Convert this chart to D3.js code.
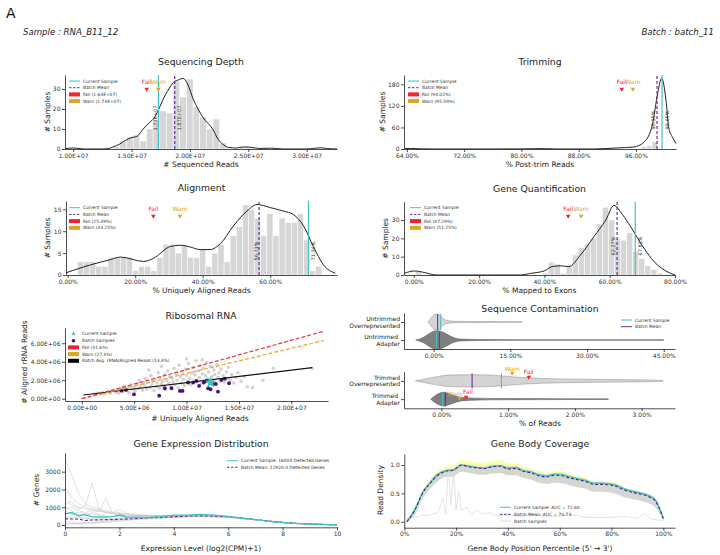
<!DOCTYPE html>
<html>
<head>
<meta charset="utf-8">
<script src="https://cdn.jsdelivr.net/npm/d3@7"></script>
<style>
  body { margin: 0; background: #fff; }
  svg { display: block; font-family: "DejaVu Sans", sans-serif; }
  .axis path, .axis line { stroke: #222; stroke-width: 0.8; }
  .axis text { font-size: 6px; fill: #333; font-family: "DejaVu Sans", sans-serif; }
</style>
</head>
<body>
<div id="chart"></div>
<script>
// ---------------- data ----------------
var sampleName = "Sample : RNA_B11_12";
var batchName = "Batch : batch_11";

// Sequencing depth (millions of reads)
var depthBinStart = 13.43, depthBinWidth = 0.57;
var depthCounts = [1, 4, 6, 7, 4, 10, 14, 19, 18, 34, 26, 35, 21, 16, 10, 15, 3, 0, 0, 1, 1];
var depthKdeX = [9.3, 10, 10.6, 11, 12.5, 13, 13.4, 14, 14.3, 14.9, 15.5, 16, 16.5, 17, 17.26, 17.8, 18.3, 18.66, 19, 19.43, 19.8, 20.28, 21.1, 22, 22.4, 22.8, 23.3, 24, 24.5, 25, 25.6, 26, 27, 28, 30, 30.6, 31.2, 31.8, 32.6];
var depthKdeY = [0.2, 0.5, 0.2, 0, 0, 0.2, 1, 2.5, 3.7, 5.5, 6.5, 10, 13, 16, 19, 26, 31, 33.7, 34.5, 35.3, 32.5, 25, 16, 9.5, 5, 2.5, 0.8, 0.5, 1, 1, 0.5, 0.3, 0.4, 0, 0, 0.3, 0.6, 0.2, 0];
var depthStats = { fail: 16.3, warn: 17.3, mean: 18.7, current: 17.3 };

// Trimming (% post-trim reads)
var trimBinStart = 96.7, trimBinWidth = 0.77;
var trimCounts = [6, 10, 20];
var trimKdeX = [63.6, 64.5, 66, 68, 76, 80, 83, 85, 90, 93.4, 95.7, 97.17, 98.34, 99.04, 99.6, 100.2, 100.6, 101.1, 101.6];
var trimKdeY = [1, 1.5, 0.5, 0, 0, 0.3, 1, 0, 0, 3, 5.6, 20, 71, 155, 197, 136, 57, 33, 15];
var trimStats = { fail: 94.02, warn: 95.59, mean: 98.95, current: 99.65 };

// Alignment (% uniquely aligned)
var alignBinStart = 2.9, alignBinWidth = 1.81;
var alignCounts = [3, 3, 3, 2, 2, 4, 4, 4, 4, 1, 2, 2, 1, 4, 7, 7, 5, 7, 4, 4, 6, 2, 5, 7, 3, 9, 11, 16, 15, 13, 9, 14, 9, 13, 12, 12, 14, 8, 1, 2];
var alignKdeX = [-0.5, 6.7, 12.6, 15.6, 22.5, 25.4, 30.4, 33.3, 36.3, 39.3, 42.2, 45.2, 49.1, 53.1, 56.1, 60, 63.9, 66.9, 69.9, 72.8, 75.8, 79.3];
var alignKdeY = [0.5, 2.3, 3.5, 4.1, 3.1, 3.8, 6.5, 6.8, 6.4, 5.8, 5.8, 7.1, 11.2, 14.6, 16.1, 15.4, 14.6, 13.8, 11.2, 6.5, 2.3, 0.4];
var alignStats = { fail: 25.39, warn: 33.25, mean: 56.71, current: 71.34 };

// Gene quantification (% mapped to exons)
var quantBinStart = 0.45, quantBinWidth = 1.85;
var quantCounts = [2, 0, 0, 0, 0, 0, 0, 0, 0, 0, 0, 0, 0, 0, 0, 0, 0, 0, 0, 0, 0, 1, 7, 6, 1, 5, 11, 15, 17, 20, 28, 37, 30, 20, 19, 23, 13, 9, 5, 3, 1];
var quantKdeX = [-3, 0.3, 3.4, 6.8, 32.7, 35.8, 39.9, 42.4, 45, 47.5, 51.1, 55.2, 58.8, 61.3, 63.9, 66.4, 70.5, 73.6, 77.2, 80];
var quantKdeY = [0.9, 2.2, 1.3, 0, 0, 0.9, 2.2, 4.6, 5, 4.6, 11, 21, 30, 38, 33, 26.4, 14.6, 7.3, 2.2, 0];
var quantStats = { fail: 47.29, warn: 51.25, mean: 62.27, current: 67.83 };

// Ribosomal RNA (millions): all samples, this batch, current sample, reference lines
var ribAllPts = [[1.2,0.5],[1.5,0.6],[1.8,0.55],[2.0,0.7],[2.2,0.5],[2.5,0.8],[2.7,0.6],[3.0,0.9],[3.2,0.7],[3.4,1.0],[3.5,0.6],[3.8,1.1],[3.9,0.8],[4.0,1.3],[4.2,0.9],[4.4,1.2],[4.5,0.7],[4.7,1.5],[4.8,1.0],[5.0,1.2],[5.1,0.8],[5.3,1.6],[5.4,1.1],[5.5,2.0],[5.6,1.3],[5.8,0.9],[5.9,1.7],[6.0,1.4],[6.1,2.2],[6.2,1.0],[6.3,1.8],[6.5,1.2],[6.6,2.5],[6.7,1.5],[6.8,1.9],[6.9,0.9],[7.0,2.1],[7.1,1.3],[7.2,1.7],[7.3,2.8],[7.4,1.1],[7.5,2.3],[7.6,1.6],[7.7,1.9],[7.8,1.4],[7.9,2.6],[8.0,1.0],[8.1,2.0],[8.2,3.0],[8.3,1.7],[8.4,2.4],[8.5,1.3],[8.6,2.2],[8.7,1.8],[8.8,3.3],[8.9,1.5],[9.0,2.7],[9.1,2.0],[9.2,1.2],[9.3,3.6],[9.4,2.4],[9.5,1.7],[9.6,2.9],[9.7,2.1],[9.8,1.4],[9.9,3.2],[10.0,2.5],[10.1,1.9],[10.2,3.8],[10.3,2.2],[10.4,1.5],[10.5,2.8],[10.6,3.4],[10.7,2.0],[10.8,2.6],[10.9,4.1],[11.0,1.8],[11.1,3.0],[11.2,2.3],[11.3,3.6],[11.4,1.6],[11.5,2.7],[11.6,3.3],[11.7,2.0],[11.8,2.5],[11.9,3.9],[12.0,2.2],[12.1,2.9],[12.2,1.7],[12.3,3.5],[12.4,2.4],[12.5,2.0],[12.6,3.1],[12.7,2.6],[12.8,1.5],[12.9,3.7],[13.0,2.3],[13.1,2.8],[13.2,1.9],[13.3,3.2],[13.5,2.5],[13.6,1.8],[13.8,2.9],[13.9,2.2],[14.0,3.4],[14.2,2.0],[14.3,2.6],[14.5,1.7],[14.7,2.3],[14.9,2.8],[15.2,1.9],[15.5,2.4],[15.8,1.3],[16.3,1.2],[17.3,2.0],[18.3,3.3],[22.0,3.3],[6.4,3.1],[7.6,3.5],[10.0,4.3],[11.5,4.2]];
var ribBatchPts = [[4.22,0.95],[3.8,0.87],[4.98,0.47],[7.39,0.33],[7.93,1.13],[8.57,1.13],[9.36,0.84],[9.62,0.84],[10.15,1.74],[10.63,1.74],[10.95,1.92],[11.2,1.38],[11.65,1.74],[11.9,1.92],[12.06,1.13],[12.29,1.02],[12.53,1.6],[12.79,1.6],[13.0,0.76],[13.33,2.03],[13.65,2.17],[14.06,1.67]];
var ribCurrent = [12.3, 1.75];
var ribFailLine = [[0, 0], [23.1, 7.3]];
var ribWarnLine = [[0, 0], [23.1, 6.3]];
var ribAvgLine = [[0.15, 0.4], [22.0, 3.37]];

// Sequence contamination violins (x in %, relative density)
var untrOverX = [-1.1, -0.5, 0, 0.5, 1, 1.5, 2, 3, 4, 6, 10, 17.3];
var untrOverD = [0, 0.45, 0.75, 0.87, 0.8, 0.55, 0.3, 0.13, 0.08, 0.06, 0.05, 0.03];
var untrAdapX = [-3.5, -2, -1, 0, 1, 2, 3, 4, 5, 7, 10, 20, 30, 45];
var untrAdapD = [0, 0.3, 0.65, 0.95, 1.0, 0.8, 0.5, 0.25, 0.12, 0.07, 0.05, 0.03, 0.02, 0.015];
var trOverX = [-0.39, -0.2, 0, 0.1, 0.3, 0.6, 0.8, 1.2, 1.5, 1.8, 2.2, 2.6, 3.1, 3.32];
var trOverD = [0, 0.35, 0.7, 0.82, 0.86, 0.86, 0.78, 0.48, 0.34, 0.28, 0.22, 0.18, 0.13, 0.05];
var trAdapX = [-0.16, -0.08, 0, 0.05, 0.1, 0.2, 0.3, 0.5, 0.8, 1.2, 1.8, 2.5];
var trAdapD = [0, 0.6, 0.95, 1.0, 0.85, 0.5, 0.25, 0.14, 0.1, 0.08, 0.06, 0.04];
var contamTop = { overMean: 0.78, overCur: 1.37, adapMean: 1.1, adapCur: 0.59 };
var contamBottom = { overMean: 0.46, overCur: 0.9, adapMean: 0.06, adapCur: 0.02,
  overWarn: 1.06, overFail: 1.31, adapWarn: 0.27, adapFail: 0.37 };

// Gene expression distribution
var exprX = [0, 0.25, 0.5, 0.75, 1, 1.25, 1.5, 1.75, 2, 2.25, 2.5, 3, 3.5, 4, 4.5, 5, 5.5, 6, 6.5, 7, 7.5, 8, 8.5, 9, 9.5, 10];
var exprCurrent = [620, 700, 520, 580, 460, 450, 440, 470, 560, 450, 440, 430, 470, 560, 560, 600, 560, 480, 380, 300, 200, 140, 90, 55, 30, 10];
var exprMean = [350, 340, 330, 250, 280, 290, 300, 310, 320, 330, 350, 400, 430, 460, 500, 510, 500, 470, 400, 310, 220, 150, 90, 55, 30, 10];
var exprSamples = [
  [3700, 2800, 1800, 1200, 1000, 900, 800, 700, 650, 600, 550, 520, 500, 500, 490, 480, 460, 420, 360, 290, 210, 140, 90, 50, 25, 8],
  [1200, 1300, 900, 1100, 2350, 900, 700, 650, 600, 560, 540, 520, 520, 520, 510, 500, 480, 440, 370, 290, 200, 130, 80, 50, 25, 8],
  [900, 1000, 800, 700, 800, 750, 1500, 650, 700, 600, 550, 530, 520, 540, 550, 540, 510, 460, 380, 300, 210, 140, 90, 50, 25, 8],
  [200, 150, 100, 150, 120, 180, 200, 250, 300, 320, 350, 380, 420, 450, 480, 500, 490, 460, 390, 300, 210, 140, 85, 50, 25, 8],
  [0, 50, 100, 120, 150, 180, 220, 250, 260, 280, 300, 330, 370, 420, 460, 480, 470, 440, 380, 300, 210, 140, 85, 50, 25, 8],
  [1500, 1100, 1000, 900, 850, 800, 750, 700, 900, 650, 600, 560, 540, 530, 520, 510, 490, 450, 380, 300, 210, 140, 85, 50, 25, 8],
  [500, 400, 450, 380, 350, 340, 350, 360, 380, 390, 400, 420, 450, 480, 500, 510, 500, 460, 390, 300, 210, 140, 85, 50, 25, 8],
  [800, 600, 700, 650, 600, 550, 500, 480, 460, 440, 430, 440, 460, 480, 500, 500, 490, 450, 380, 300, 210, 140, 85, 50, 25, 8],
  [2200, 1500, 1200, 1000, 900, 800, 700, 650, 600, 580, 560, 520, 500, 500, 490, 480, 460, 420, 360, 290, 210, 140, 85, 50, 25, 8],
  [100, 80, 60, 90, 100, 120, 150, 180, 200, 250, 300, 350, 400, 440, 470, 490, 480, 450, 380, 300, 210, 140, 85, 50, 25, 8],
  [1000, 800, 600, 500, 700, 600, 500, 450, 550, 500, 480, 460, 450, 470, 480, 480, 470, 440, 370, 290, 200, 130, 80, 50, 25, 8],
  [300, 600, 400, 350, 300, 280, 300, 320, 340, 360, 380, 400, 420, 440, 470, 490, 480, 450, 380, 300, 210, 140, 85, 50, 25, 8]
];

// Gene body coverage
var gbX = [1, 4, 7, 10, 13, 16, 19, 22, 25, 28, 31, 34, 37, 40, 43, 46, 49, 52, 55, 58, 61, 64, 67, 70, 73, 76, 79, 82, 85, 88, 91, 94, 97, 100];
var gbMean = [0.0, 0.2, 0.5, 0.68, 0.82, 0.89, 0.91, 1.0, 0.97, 0.95, 0.94, 0.97, 0.98, 0.93, 0.94, 0.89, 0.86, 0.81, 0.79, 0.82, 0.81, 0.77, 0.74, 0.71, 0.66, 0.66, 0.65, 0.62, 0.56, 0.52, 0.49, 0.45, 0.36, 0.05];
var gbCurrent = [0.0, 0.21, 0.51, 0.69, 0.84, 0.9, 0.92, 1.0, 0.98, 0.96, 0.95, 0.98, 0.99, 0.95, 0.96, 0.9, 0.88, 0.83, 0.81, 0.84, 0.83, 0.79, 0.76, 0.73, 0.68, 0.68, 0.67, 0.64, 0.58, 0.54, 0.51, 0.47, 0.38, 0.06];
var gbSpread = [0.02, 0.04, 0.06, 0.07, 0.08, 0.08, 0.08, 0.09, 0.1, 0.1, 0.1, 0.1, 0.11, 0.1, 0.09, 0.08, 0.08, 0.08, 0.07, 0.07, 0.07, 0.07, 0.07, 0.07, 0.06, 0.06, 0.06, 0.06, 0.05, 0.05, 0.05, 0.05, 0.04, 0.02];
var gbGrayLo = [0.0, 0.12, 0.4, 0.58, 0.72, 0.79, 0.8, 0.88, 0.86, 0.84, 0.83, 0.85, 0.86, 0.82, 0.82, 0.77, 0.74, 0.69, 0.67, 0.69, 0.68, 0.64, 0.61, 0.58, 0.53, 0.53, 0.52, 0.49, 0.43, 0.4, 0.37, 0.33, 0.25, 0.02];
var gbGrayHi = [0.02, 0.24, 0.54, 0.72, 0.86, 0.92, 0.94, 1.02, 1.0, 0.98, 0.97, 1.0, 1.01, 0.97, 0.98, 0.92, 0.9, 0.85, 0.83, 0.86, 0.85, 0.81, 0.78, 0.75, 0.7, 0.7, 0.69, 0.66, 0.6, 0.56, 0.53, 0.49, 0.41, 0.08];
var gbOutlierX = [1, 3, 5, 7, 9, 11, 13, 15, 16, 17, 18, 19, 20, 21, 22, 24, 26, 28, 30, 33, 36, 40, 45, 50, 55, 60, 65, 70, 75, 80, 85, 90, 93, 95, 100];
var gbOutlierY = [0.05, 0.1, 0.08, 0.12, 0.1, 0.14, 0.16, 0.4, 0.15, 0.95, 0.3, 0.9, 0.2, 0.55, 0.2, 0.25, 0.12, 0.2, 0.14, 0.16, 0.1, 0.12, 0.1, 0.13, 0.08, 0.1, 0.12, 0.08, 0.07, 0.08, 0.09, 0.06, 0.15, 0.05, 0.02];

// ---------------- drawing ----------------
var teal = "#3fc5c0", purple = "#6a2ca6", failC = "#f5222d", warnC = "#daa520", barC = "#d6d6d6";

var svg = d3.select("#chart").append("svg").attr("width", 720).attr("height", 555);

function sci(v) {
  if (v === 0) return "0.00E+00";
  var e = Math.floor(Math.log10(Math.abs(v)));
  var m = v / Math.pow(10, e);
  return m.toFixed(2) + "E+" + (e < 10 ? "0" + e : e);
}
function pct(v) { return v.toFixed(2) + "%"; }

function txt(x, y, t, size, anchor, color) {
  return svg.append("text").attr("x", x).attr("y", y).attr("font-size", size)
    .attr("text-anchor", anchor || "middle").attr("fill", color || "#222").text(t);
}
function ylab(x, y, t) {
  svg.append("text").attr("transform", `translate(${x},${y}) rotate(-90)`)
    .attr("text-anchor", "middle").attr("dy", "0.35em").attr("font-size", 7.5).attr("fill", "#222").text(t);
}
function vlabel(x, y, t) {
  svg.append("text").attr("transform", `translate(${x},${y}) rotate(-90)`)
    .attr("text-anchor", "middle").attr("dy", "0.35em").attr("font-size", 5).attr("fill", "#333").text(t);
}
function marker(x, yText, yTri, label, color, anchor, dx) {
  txt(x + (dx || 0), yText, label, 6, anchor || "middle", color);
  svg.append("path").attr("d", d3.symbol(d3.symbolTriangle, 9))
    .attr("transform", `translate(${x},${yTri}) rotate(180)`).attr("fill", color);
}
function axes(x, y, xt, xf, yt, yf) {
  svg.append("g").attr("class", "axis").attr("transform", `translate(0,${y.range()[0]})`)
    .call(d3.axisBottom(x).tickValues(xt).tickFormat(xf).tickSize(3).tickSizeOuter(0).tickPadding(1.5));
  svg.append("g").attr("class", "axis").attr("transform", `translate(${x.range()[0]},0)`)
    .call(d3.axisLeft(y).tickValues(yt).tickFormat(yf).tickSize(3).tickSizeOuter(0).tickPadding(1.5));
}
function legendRow(x, y, kind, color, label, size) {
  if (kind == "rect") {
    svg.append("rect").attr("x", x).attr("y", y - 2).attr("width", 11).attr("height", 4).attr("fill", color);
  } else if (kind == "dot") {
    svg.append("circle").attr("cx", x + 5.5).attr("cy", y).attr("r", 1.8).attr("fill", color);
  } else if (kind == "star") {
    svg.append("path").attr("d", d3.symbol(d3.symbolStar, 8)).attr("transform", `translate(${x + 5.5},${y})`).attr("fill", color);
  } else {
    svg.append("line").attr("x1", x).attr("x2", x + 11).attr("y1", y).attr("y2", y)
      .attr("stroke", color).attr("stroke-width", 1)
      .attr("stroke-dasharray", kind == "dash" ? "2.5,1.5" : null);
  }
  svg.append("text").attr("x", x + 14).attr("y", y).attr("dy", "0.35em")
    .attr("font-size", size || 4.4).attr("fill", "#333").text(label);
}

// one histogram + kde panel
function histPanel(o) {
  var x = d3.scaleLinear().domain(o.xd).range(o.xr);
  var y = d3.scaleLinear().domain(o.yd).range(o.yr);

  svg.append("g").selectAll("rect")
    .data(o.counts)
    .enter()
    .append("rect")
    .attr("x", (d, i) => x(o.start + i * o.width))
    .attr("width", x(o.start + o.width) - x(o.start))
    .attr("y", d => y(d))
    .attr("height", d => y(0) - y(d))
    .attr("fill", barC)
    .attr("stroke", "#fff")
    .attr("stroke-width", 0.5);

  var line = d3.line().x(d => x(d[0])).y(d => y(d[1])).curve(d3.curveMonotoneX);
  svg.append("path").datum(d3.zip(o.kdeX, o.kdeY)).attr("d", line)
    .attr("fill", "none").attr("stroke", "#222").attr("stroke-width", 1);

  var top = o.yr[1], bot = o.yr[0];
  svg.append("line").attr("x1", x(o.stats.current)).attr("x2", x(o.stats.current))
    .attr("y1", bot).attr("y2", top).attr("stroke", teal).attr("stroke-width", 1.2);
  svg.append("line").attr("x1", x(o.stats.mean)).attr("x2", x(o.stats.mean))
    .attr("y1", bot).attr("y2", top).attr("stroke", purple).attr("stroke-width", 1.2)
    .attr("stroke-dasharray", "3,2");

  vlabel(x(o.stats.current) + o.curOff, o.labY, o.fmt(o.stats.current));
  vlabel(x(o.stats.mean) + o.meanOff, o.labY, o.fmt(o.stats.mean));

  marker(x(o.stats.fail), o.markY, o.markY + 5, "Fail", failC);
  marker(x(o.stats.warn), o.markY, o.markY + 5, "Warn", warnC);

  legendRow(o.legX, o.legY, "line", teal, "Current Sample");
  legendRow(o.legX, o.legY + 6.7, "dash", purple, "Batch Mean");
  legendRow(o.legX, o.legY + 13.4, "rect", failC, "Fail (" + o.fmt(o.stats.fail) + ")");
  legendRow(o.legX, o.legY + 20.1, "rect", warnC, "Warn (" + o.fmt(o.stats.warn) + ")");

  axes(x, y, o.xt, o.xf, o.yt, d3.format("d"));

  var cx = (o.xr[0] + o.xr[1]) / 2;
  txt(cx, o.yr[1] - 10, o.title, 9.3);
  txt(cx, o.yr[0] + 17.7, o.xlab, 7.5);
  ylab(o.ylabX, (o.yr[0] + o.yr[1]) / 2, "# Samples");
}

// header
txt(6, 18, "A", 14, "start", "#111");
txt(23, 35, sampleName, 8.6, "start", "#222").attr("font-style", "italic");
txt(714, 35, batchName, 8.6, "end", "#222").attr("font-style", "italic");

histPanel({
  title: "Sequencing Depth", xlab: "# Sequenced Reads",
  xd: [9.3, 32.6], xr: [65, 337], yd: [0, 37], yr: [149, 75],
  start: depthBinStart, width: depthBinWidth, counts: depthCounts,
  kdeX: depthKdeX, kdeY: depthKdeY, stats: depthStats,
  fmt: v => sci(v * 1e6), xt: [10, 15, 20, 25, 30], xf: v => sci(v * 1e6), yt: [0, 10, 20, 30],
  curOff: -3.5, meanOff: 4.5, labY: 118, markY: 84, legX: 69, legY: 81, ylabX: 47
});

histPanel({
  title: "Trimming", xlab: "% Post-trim Reads",
  xd: [63.6, 101.6], xr: [404, 676], yd: [0, 206], yr: [149, 75],
  start: trimBinStart, width: trimBinWidth, counts: trimCounts,
  kdeX: trimKdeX, kdeY: trimKdeY, stats: trimStats,
  fmt: pct, xt: [64, 72, 80, 88, 96], xf: pct, yt: [0, 60, 120, 180],
  curOff: 5, meanOff: -4, labY: 120, markY: 84, legX: 408, legY: 81, ylabX: 382
});

histPanel({
  title: "Alignment", xlab: "% Uniquely Aligned Reads",
  xd: [-0.5, 79.8], xr: [66, 337], yd: [0, 16.9], yr: [275, 201],
  start: alignBinStart, width: alignBinWidth, counts: alignCounts,
  kdeX: alignKdeX, kdeY: alignKdeY, stats: alignStats,
  fmt: pct, xt: [0, 20, 40, 60], xf: pct, yt: [0, 5, 10, 15],
  curOff: 5, meanOff: -3, labY: 251, markY: 211, legX: 69, legY: 207.7, ylabX: 47
});

histPanel({
  title: "Gene Quantification", xlab: "% Mapped to Exons",
  xd: [-3, 80], xr: [404, 675], yd: [0, 40], yr: [275, 201.7],
  start: quantBinStart, width: quantBinWidth, counts: quantCounts,
  kdeX: quantKdeX, kdeY: quantKdeY, stats: quantStats,
  fmt: pct, xt: [0, 20, 40, 60, 80], xf: pct, yt: [0, 10, 20, 30],
  curOff: 5, meanOff: -4, labY: 246, markY: 211, legX: 410, legY: 207.7, ylabX: 385
});

// ---- Ribosomal RNA
(function() {
  var x = d3.scaleLinear().domain([-1.6, 23.5]).range([65, 328]);
  var y = d3.scaleLinear().domain([-0.25, 7.65]).range([401, 328]);

  svg.append("g").selectAll("circle").data(ribAllPts).enter().append("circle")
    .attr("cx", d => x(d[0])).attr("cy", d => y(d[1])).attr("r", 1.8)
    .attr("fill", "#c4c4c4").attr("opacity", 0.75);
  svg.append("g").selectAll("circle").data(ribBatchPts).enter().append("circle")
    .attr("cx", d => x(d[0])).attr("cy", d => y(d[1])).attr("r", 1.9)
    .attr("fill", "#4b0a8c");

  var line = d3.line().x(d => x(d[0])).y(d => y(d[1]));
  svg.append("path").datum(ribAvgLine).attr("d", line).attr("stroke", "#111").attr("stroke-width", 1.2).attr("fill", "none");
  svg.append("path").datum(ribWarnLine).attr("d", line).attr("stroke", "#e3a82b").attr("stroke-width", 1.2)
    .attr("stroke-dasharray", "4,2").attr("fill", "none");
  svg.append("path").datum(ribFailLine).attr("d", line).attr("stroke", "#f5303a").attr("stroke-width", 1.2)
    .attr("stroke-dasharray", "4,2").attr("fill", "none");

  svg.append("path").attr("d", d3.symbol(d3.symbolStar, 45))
    .attr("transform", `translate(${x(ribCurrent[0])},${y(ribCurrent[1])})`).attr("fill", teal);

  legendRow(68, 333.7, "star", teal, "Current Sample");
  legendRow(68, 340.7, "dot", "#4b0a8c", "Batch Samples");
  legendRow(68, 347.4, "rect", failC, "Fail (31.6%)");
  legendRow(68, 354.1, "rect", warnC, "Warn (27.3%)");
  legendRow(68, 360.8, "rect", "#000", "Batch Avg. rRNA/Aligned Reads (13.3%)");

  axes(x, y, [0, 5, 10, 15, 20], v => sci(v * 1e6), [0, 2, 4, 6], v => sci(v * 1e6));
  txt(201, 319.3, "Ribosomal RNA", 9.3);
  txt(200, 421, "# Uniquely Aligned Reads", 7.5);
  ylab(24, 362, "# Aligned rRNA Reads");
})();

// ---- Sequence contamination
function violin(x, yc, xs, ds, w, fill, stroke) {
  var pts = d3.zip(xs, ds);
  var area = d3.area().x(d => x(d[0])).y0(d => yc - w(d[1])).y1(d => yc + w(d[1])).curve(d3.curveMonotoneX);
  svg.append("path").datum(pts).attr("d", area).attr("fill", fill).attr("stroke", stroke).attr("stroke-width", 0.5);
}
function vseg(x, yc, h, color) {
  svg.append("line").attr("x1", x).attr("x2", x).attr("y1", yc - h).attr("y2", yc + h)
    .attr("stroke", color).attr("stroke-width", 1.1);
}
function catAxis(x, y, xt, labels) {
  svg.append("g").attr("class", "axis").attr("transform", `translate(0,${y.range()[1]})`)
    .call(d3.axisBottom(x).tickValues(xt).tickFormat(pct).tickSize(3).tickSizeOuter(0).tickPadding(1.5));
  svg.append("g").attr("class", "axis").attr("transform", `translate(${x.range()[0]},0)`)
    .call(d3.axisLeft(y).tickFormat("").tickSize(3).tickSizeOuter(0));
  labels.forEach(function(l) {
    var t = svg.append("text").attr("text-anchor", "end").attr("font-size", 6).attr("fill", "#222");
    t.append("tspan").attr("x", 400).attr("y", y(l[0]) - 1.3).text(l[0]);
    t.append("tspan").attr("x", 400).attr("y", y(l[0]) + 5.5).text(l[1]);
  });
}
(function() {
  var xa = d3.scaleLinear().domain([-5.8, 47.2]).range([404, 675]);
  var ya = d3.scalePoint().domain(["Untrimmed", "Untrimmed "]).range([313, 349]).padding(0.5);
  var wa = d3.scaleLinear().domain([0, 1]).range([0, 9.3]);
  violin(xa, ya("Untrimmed"), untrOverX, untrOverD, wa, "#d4d4d4", "#8a8a8a");
  violin(xa, ya("Untrimmed "), untrAdapX, untrAdapD, wa, "#7f7f7f", "#555");
  vseg(xa(contamTop.overMean), ya("Untrimmed"), 8, purple);
  vseg(xa(contamTop.overCur), ya("Untrimmed"), 8, teal);
  vseg(xa(contamTop.adapCur), ya("Untrimmed "), 8, teal);
  vseg(xa(contamTop.adapMean), ya("Untrimmed "), 8, purple);
  catAxis(xa, ya, [0, 15, 30, 45], [["Untrimmed", "Overrepresented"], ["Untrimmed ", "Adapter"]]);

  legendRow(621, 320, "line", teal, "Current Sample", 4.4);
  legendRow(621, 326.7, "line", purple, "Batch Mean", 4.4);

  var xb = d3.scaleLinear().domain([-0.56, 3.5]).range([404, 675]);
  var yb = d3.scalePoint().domain(["Trimmed", "Trimmed "]).range([371.7, 408.3]).padding(0.5);
  var wb = d3.scaleLinear().domain([0, 1]).range([0, 7]);
  violin(xb, yb("Trimmed"), trOverX, trOverD, wb, "#d4d4d4", "#8a8a8a");
  violin(xb, yb("Trimmed "), trAdapX, trAdapD, wb, "#7f7f7f", "#555");
  vseg(xb(contamBottom.overMean), yb("Trimmed"), 7.5, purple);
  vseg(xb(contamBottom.overCur), yb("Trimmed"), 7.5, teal);
  vseg(xb(contamBottom.adapCur), yb("Trimmed "), 6.5, teal);
  vseg(xb(contamBottom.adapMean), yb("Trimmed "), 6.5, purple);
  catAxis(xb, yb, [0, 1, 2, 3], [["Trimmed", "Overrepresented"], ["Trimmed ", "Adapter"]]);

  marker(xb(contamBottom.overWarn), 370.5, 373, "Warn", warnC);
  marker(xb(contamBottom.overFail), 374, 377, "Fail", failC);
  marker(xb(contamBottom.adapWarn), 395.5, 398, "Warn", warnC, "end", 3.5);
  marker(xb(contamBottom.adapFail), 393.5, 397, "Fail", failC, "start", -3);

  txt(540, 311.6, "Sequence Contamination", 9.3);
  txt(540, 426, "% of Reads", 7.5);
})();

// ---- Gene expression distribution
(function() {
  var x = d3.scaleLinear().domain([0, 10]).range([65, 337]);
  var y = d3.scaleLinear().domain([-130, 4050]).range([527.3, 453]);
  var line = d3.line().x(d => x(d[0])).y(d => y(d[1]));

  exprSamples.forEach(function(s) {
    svg.append("path").datum(d3.zip(exprX, s)).attr("d", line)
      .attr("fill", "none").attr("stroke", "#c8c8c8").attr("stroke-width", 0.8).attr("opacity", 0.7);
  });
  svg.append("path").datum(d3.zip(exprX, exprMean)).attr("d", line)
    .attr("fill", "none").attr("stroke", purple).attr("stroke-width", 1.1).attr("stroke-dasharray", "3,2");
  svg.append("path").datum(d3.zip(exprX, exprCurrent)).attr("d", line)
    .attr("fill", "none").attr("stroke", teal).attr("stroke-width", 1.3);

  legendRow(227, 460.7, "line", teal, "Current Sample: 16004 Detected Genes");
  legendRow(227, 467.3, "dash", purple, "Batch Mean: 12920.0 Detected Genes");

  axes(x, y, [0, 2, 4, 6, 8, 10], d3.format("d"), [0, 1000, 2000, 3000], d3.format("d"));
  txt(201, 446.6, "Gene Expression Distribution", 9.3);
  txt(201, 551, "Expression Level (log2(CPM)+1)", 7.5);
  ylab(36, 490, "# Genes");
})();

// ---- Gene body coverage
(function() {
  var x = d3.scaleLinear().domain([0, 104.5]).range([404.3, 675]);
  var y = d3.scaleLinear().domain([-0.105, 1.195]).range([527.7, 454]);
  var idx = d3.range(gbX.length);

  var yellow = d3.area().x(i => x(gbX[i])).y0(i => y(gbMean[i] - gbSpread[i])).y1(i => y(gbMean[i] + gbSpread[i])).curve(d3.curveMonotoneX);
  svg.append("path").datum(idx).attr("d", yellow).attr("fill", "#fbfb7a").attr("opacity", 0.6);

  var gray = d3.area().x(i => x(gbX[i])).y0(i => y(gbGrayLo[i])).y1(i => y(gbGrayHi[i])).curve(d3.curveMonotoneX);
  svg.append("path").datum(idx).attr("d", gray).attr("fill", "#cfcfcf").attr("opacity", 0.85);

  var line = d3.line().x(d => x(d[0])).y(d => y(d[1]));
  svg.append("path").datum(d3.zip(gbOutlierX, gbOutlierY)).attr("d", line)
    .attr("fill", "none").attr("stroke", "#dcdcdc").attr("stroke-width", 0.8);
  svg.append("path").datum(d3.zip(gbX, gbCurrent)).attr("d", line.curve(d3.curveMonotoneX))
    .attr("fill", "none").attr("stroke", teal).attr("stroke-width", 1.3);
  svg.append("path").datum(d3.zip(gbX, gbMean)).attr("d", line)
    .attr("fill", "none").attr("stroke", "#3b2c9e").attr("stroke-width", 1.1).attr("stroke-dasharray", "3,2");

  legendRow(500, 507.3, "line", teal, "Current Sample: AUC = 72.60");
  legendRow(500, 514.3, "dash", "#3b2c9e", "Batch Mean: AUC = 70.73");
  legendRow(500, 521, "line", "#d8d8d8", "Batch Samples");

  axes(x, y, [0, 20, 40, 60, 80, 100], v => v + "%", [0, 0.5, 1.0], d3.format(".1f"));
  txt(540, 446.6, "Gene Body Coverage", 9.3);
  txt(540, 551, "Gene Body Position Percentile (5' \u2192 3')", 7.5);
  ylab(380, 490, "Read Density");
})();
</script>
</body>
</html>
